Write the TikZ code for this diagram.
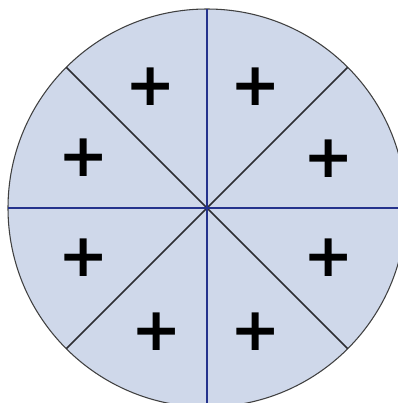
\documentclass[tikz,border=0pt]{standalone}
\usepackage{fontspec}
\newfontfamily\plusfont{DejaVu Sans}
\usetikzlibrary{positioning}
\definecolor{slicefill}{RGB}{207,216,234}
\definecolor{axisblue}{RGB}{36,50,140}
\definecolor{diaggray}{RGB}{45,45,50}

\begin{document}
\begin{tikzpicture}[x=0.75pt, y=-0.75pt]
\tikzstyle{axis}=[draw=axisblue, line width=1.3pt]
\tikzstyle{diag}=[draw=diaggray, line width=1.1pt]
\tikzstyle{charge}=[font=\plusfont\bfseries\fontsize{45}{45}\selectfont, inner sep=0pt]
\useasboundingbox (0,0) rectangle (398,403);
\clip (0,0) rectangle (398,403);
% disc
\coordinate (c) at (207,208);
\draw[fill=slicefill, draw=black!75, line width=0.8pt] (c) circle (199);
\foreach \a/\n in {0/e, 45/se, 90/s, 135/sw, 180/w, 225/nw, 270/n, 315/ne}
  \coordinate (\n) at ([shift={(\a:199)}]c);
% cuts
\draw[diag] (nw) -- (se);
\draw[diag] (ne) -- (sw);
\draw[axis] (n) -- (s);
\draw[axis] (w) -- (e);
% charges
\node[charge] (p1) at (151,87) {+};
\node[charge] (p2) at (256,87) {+};
\node[charge] (p3) at (84,158) {+};
\node[charge] (p4) at (329,159) {+};
\node[charge] (p5) at (84,258) {+};
\node[charge] (p6) at (329,258) {+};
\node[charge] (p7) at (157,332) {+};
\node[charge] (p8) at (256,332) {+};
\end{tikzpicture}
\end{document}
